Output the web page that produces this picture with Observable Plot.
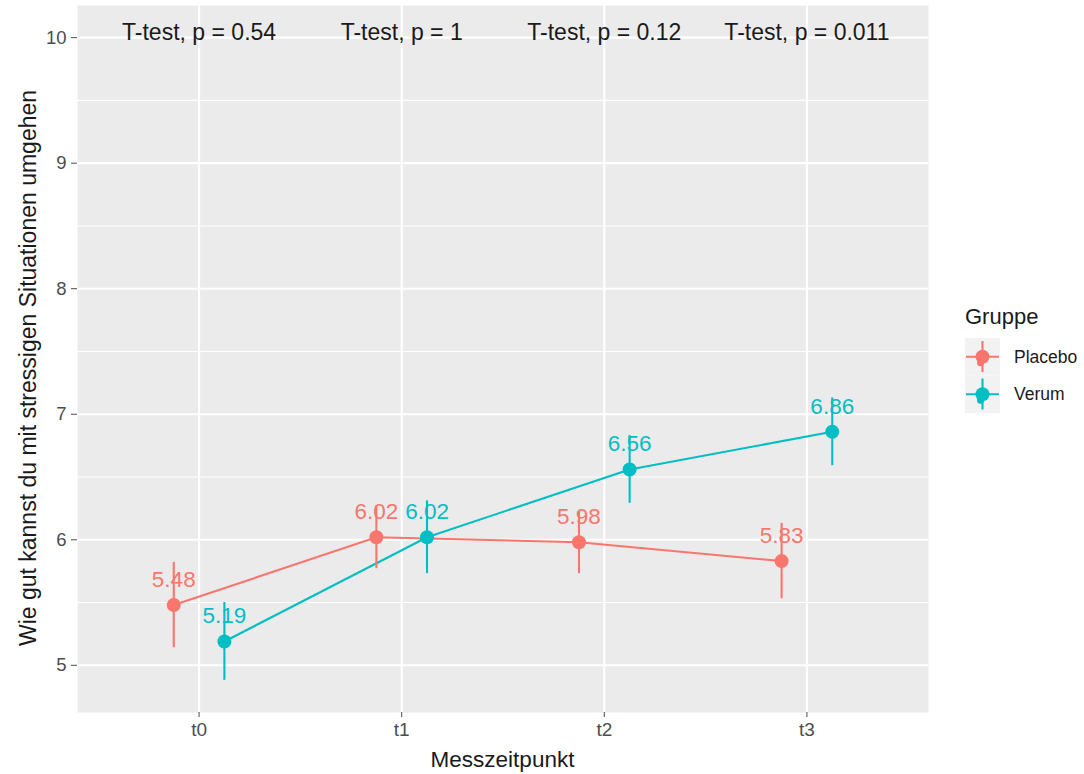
<!DOCTYPE html>
<html><head><meta charset="utf-8">
<script src="https://cdn.jsdelivr.net/npm/d3@7"></script>
<script src="https://cdn.jsdelivr.net/npm/@observablehq/plot@0.6"></script>
<style>body{margin:0;background:#fff;} #chart{position:relative;width:1084px;height:774px;}</style>
</head><body><div id="chart"></div>
<script>
const times = ["t0","t1","t2","t3"];
const groups = ["Placebo","Verum"];
const groupColors = ["#F8766D","#00BFC4"];
const placeboMean = [5.48,6.02,5.98,5.83];
const placeboErr = [0.34,0.25,0.25,0.30];
const verumMean = [5.19,6.02,6.56,6.86];
const verumErr = [0.31,0.29,0.27,0.27];
const pValues = ["0.54","1","0.12","0.011"];
const yTicks = [5,6,7,8,9,10];
const yMinor = [5.5,6.5,7.5,8.5,9.5];
const labelY = 10;
const dodge = 0.25;
const xTitle = "Messzeitpunkt";
const yTitle = "Wie gut kannst du mit stressigen Situationen umgehen";
const legendTitle = "Gruppe";

const rows = [];
groups.forEach((g, gi) => {
  const means = gi === 0 ? placeboMean : verumMean;
  const errs = gi === 0 ? placeboErr : verumErr;
  times.forEach((t, i) => rows.push({group: g, time: t, pos: i + 1 + (gi - 0.5) * dodge,
    mean: means[i], lo: means[i] - errs[i], hi: means[i] + errs[i]}));
});
const tests = times.map((t, i) => ({pos: i + 1, y: labelY, label: `T-test, p = ${pValues[i]}`}));
const yLo = d3.min(rows, d => d.lo), yHi = labelY;
const pad = 0.05 * (yHi - yLo);
const font = "'Liberation Sans', Arial, sans-serif";
const W = 1084, H = 774, mL = 77, mR = 156, mT = 5, mB = 62;

const plot = Plot.plot({
  width: W, height: H, marginLeft: mL, marginRight: mR, marginTop: mT, marginBottom: mB,
  style: {fontFamily: font, background: "#fff", overflow: "visible"},
  x: {type: "linear", domain: [0.4, times.length + 0.6]},
  y: {domain: [yLo - pad, yHi + pad]},
  color: {domain: groups, range: groupColors},
  marks: [
    Plot.frame({fill: "#ebebeb", stroke: null}),
    Plot.ruleY(yMinor, {stroke: "#fff", strokeWidth: 1.07}),
    Plot.ruleY(yTicks, {stroke: "#fff", strokeWidth: 2.1}),
    Plot.ruleX(times.map((t, i) => i + 1), {stroke: "#fff", strokeWidth: 2.1}),
    Plot.axisY({ticks: yTicks, tickFormat: d => String(d), tickSize: 6, tickPadding: 5, fontSize: 18.5, color: "#4d4d4d", label: null}),
    Plot.axisX({ticks: times.map((t, i) => i + 1), tickFormat: d => times[d - 1], tickSize: 5, tickPadding: 5, fontSize: 19, color: "#4d4d4d", label: null}),
    Plot.line(rows, {x: "pos", y: "mean", stroke: "group", z: "group", strokeWidth: 2.1}),
    Plot.ruleX(rows, {x: "pos", y1: "lo", y2: "hi", stroke: "group", strokeWidth: 2.1}),
    Plot.dot(rows, {x: "pos", y: "mean", fill: "group", r: 7}),
    Plot.text(rows, {x: "pos", y: "mean", text: d => d.mean.toFixed(2), fill: "group", fontSize: 22.5, lineAnchor: "bottom", dy: -18}),
    Plot.text(tests, {x: "pos", y: "y", text: "label", fontSize: 23, lineAnchor: "bottom", dy: 2, fill: "#1a1a1a"})
  ]
});
document.getElementById("chart").appendChild(plot);

const svg = d3.select(plot);
// axis titles
svg.append("text").attr("x", mL + (W - mL - mR) / 2).attr("y", 767).attr("text-anchor", "middle")
  .attr("font-size", 22.5).attr("fill", "#1a1a1a").attr("font-family", font).text(xTitle);
svg.append("text").attr("transform", `translate(36,368) rotate(-90)`).attr("text-anchor", "middle")
  .attr("font-size", 23).attr("fill", "#1a1a1a").attr("font-family", font).text(yTitle);
// legend
const color = plot.scale("color");
const lg = svg.append("g").attr("font-family", font).attr("text-anchor", "start");
lg.append("text").attr("x", 965).attr("y", 324).attr("font-size", 22).attr("fill", "#1a1a1a").text(legendTitle);
groups.forEach((g, i) => {
  const y0 = 338 + i * 37.5, cx = 982.5, cy = y0 + 18.75, c = color.apply(g);
  const k = lg.append("g");
  k.append("rect").attr("x", 965).attr("y", y0).attr("width", 35).attr("height", 37.5).attr("fill", "#f2f2f2");
  k.append("line").attr("x1", 966).attr("x2", 999).attr("y1", cy).attr("y2", cy).attr("stroke", c).attr("stroke-width", 2.1);
  k.append("line").attr("x1", cx).attr("x2", cx).attr("y1", y0 + 3).attr("y2", y0 + 34).attr("stroke", c).attr("stroke-width", 2.1);
  k.append("circle").attr("cx", cx).attr("cy", cy).attr("r", 7).attr("fill", c);
  k.append("circle").attr("cx", cx - 2).attr("cy", cy + 6).attr("r", 3.5).attr("fill", c);
  lg.append("text").attr("x", 1014).attr("y", cy + 6).attr("font-size", 17.5).attr("fill", "#1a1a1a").attr("text-anchor", "start").text(g);
});
</script></body></html>
